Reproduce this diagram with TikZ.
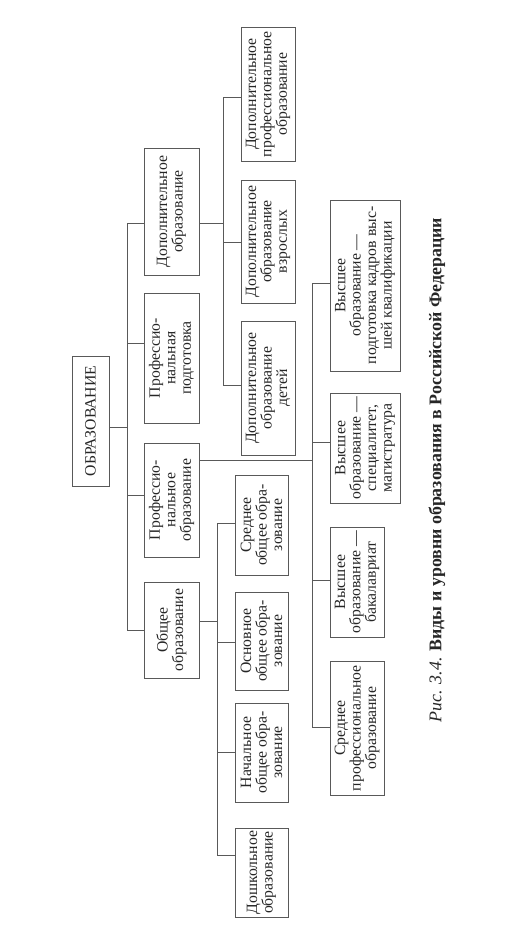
\documentclass[tikz,border=0pt]{standalone}
\usepackage{fontspec}
\setmainfont{Liberation Serif}
\usepackage{tikz}
\usetikzlibrary{positioning,calc}
\tikzset{
    box/.style={draw=black!65, line width=0.7pt, rotate=90, align=center, inner sep=1pt,
        text=black!85, font=\fontsize{11.8}{11.6}\selectfont},
    sz/.style 2 args={minimum height=#1*0.75pt, minimum width=#2*0.75pt},
    link/.style={draw=black!65, line width=0.7pt}
}

\begin{document}
\begin{tikzpicture}[x=0.75pt,y=-0.75pt]
\useasboundingbox (0,0) rectangle (525,926);
% root and first level
\node[box,sz={37}{130}] (obr) at (90.5,421) {ОБРАЗОВАНИЕ};
\node[box,sz={55}{127}] (dop) at (171.5,211.5) {Дополнительное\\образование};
\node[box,sz={55}{130}] (prp) at (171.5,358) {Профессио-\\нальная\\подготовка};
\node[box,sz={55}{114}] (pro) at (171.5,500) {Профессио-\\нальное\\образование};
\node[box,sz={55}{96}] (obs) at (171.5,630) {Общее\\образование};
% additional education
\node[box,sz={54}{134}] (dpo) at (268,94) {Дополнительное\\профессиональное\\образование};
\node[box,sz={54}{123}] (dvz) at (268,241.5) {Дополнительное\\образование\\взрослых};
\node[box,sz={54}{134}] (dde) at (268,388) {Дополнительное\\образование\\детей};
% general education
\node[box,sz={53}{100}] (sog) at (261.5,525) {Среднее\\общее обра-\\зование};
\node[box,sz={53}{98}] (oog) at (261.5,641) {Основное\\общее обра-\\зование};
\node[box,sz={53}{99}] (nog) at (261.5,752.5) {Начальное\\общее обра-\\зование};
\node[box,sz={53}{89}] (dsh) at (261.5,872.5) {Дошкольное\\образование};
% professional education
\node[box,sz={70}{171}] (vpk) at (365,285.5) {Высшее\\образование —\\подготовка кадров выс-\\шей квалификации};
\node[box,sz={70}{110}] (vsm) at (365,448) {Высшее\\образование —\\специалитет,\\магистратура};
\node[box,sz={54}{110}] (vbk) at (357,582) {Высшее\\образование —\\бакалавриат};
\node[box,sz={54}{134}] (spo) at (357,728) {Среднее\\профессиональное\\образование};
% caption
\node[rotate=90, text=black!85, font=\fontsize{13.4}{15}\selectfont] (cap) at (437,470)
    {\textit{Рис. 3.4.} \textbf{Виды и уровни образования в Российской Федерации}};

% trunk
\draw[link] (obr.south |- 0,427) -- (127,427);
\draw[link] (127,223) -- (127,630);
\foreach \n/\y in {dop/223,prp/343,pro/495,obs/630}{\draw[link] (127,\y) -- (\n.north |- 0,\y);}
% branches
\draw[link] (dop.south |- 0,223) -- (223,223);
\draw[link] (223,97) -- (223,385);
\foreach \n/\y in {dpo/97,dvz/242,dde/385}{\draw[link] (223,\y) -- (\n.north |- 0,\y);}
\draw[link] (pro.south |- 0,460) -- (312,460);
\draw[link] (312,283) -- (312,727);
\foreach \n/\y in {vpk/283,vsm/442,vbk/580,spo/727}{\draw[link] (312,\y) -- (\n.north |- 0,\y);}
\draw[link] (obs.south |- 0,621) -- (217,621);
\draw[link] (217,523) -- (217,855);
\foreach \n/\y in {sog/523,oog/642,nog/752,dsh/855}{\draw[link] (217,\y) -- (\n.north |- 0,\y);}
\end{tikzpicture}
\end{document}
